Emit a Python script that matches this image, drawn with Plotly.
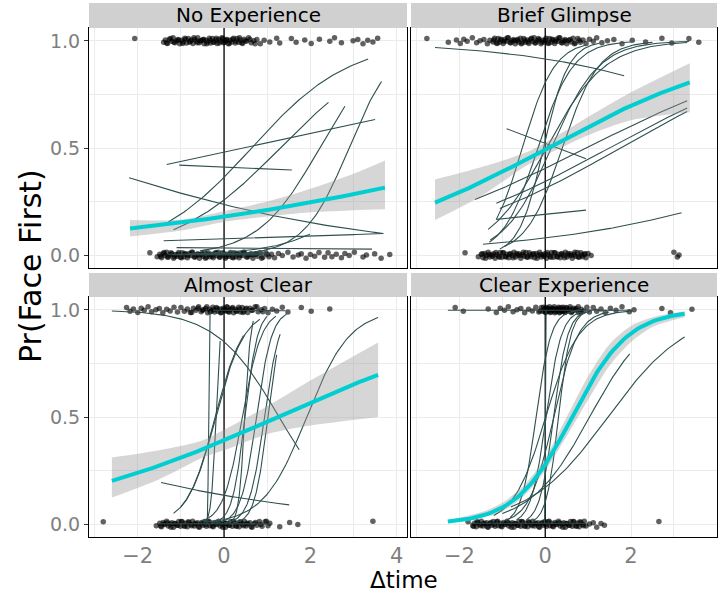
import numpy as np
import plotly.graph_objects as go

# ---------------- data ----------------
panel_titles = ["No Experience", "Brief Glimpse", "Almost Clear", "Clear Experience"]
x_tick_vals = [-2, 0, 2, 4]
x_tick_text = ["\u22122", "0", "2", "4"]
y_tick_vals = [0.0, 0.5, 1.0]
y_tick_text = ["0.0", "0.5", "1.0"]

# jittered observations (x positions) at outcome 1 and 0
p1_hi = [-2.07, -1.40, -1.36, -1.31, -1.27, -1.22, -1.18, -1.14, -1.1, -1.07, -1.03, -0.98, -0.95, -0.91,
         -0.87, -0.83, -0.8, -0.76, -0.72, -0.68, -0.64, -0.61, -0.57, -0.53, -0.49, -0.46, -0.42, -0.38,
         -0.34, -0.31, -0.27, -0.23, -0.19, -0.16, -0.12, -0.08, -0.05, -0.01, 0.03, 0.07, 0.1, 0.14, 0.18,
         0.22, 0.26, 0.3, 0.34, 0.38, 0.43, 0.47, 0.52, 0.57, 0.63, 0.69, 0.76, 0.84, 0.93, 1.06, 1.22, 1.29,
         1.56, 1.67, 1.87, 2.02, 2.21, 2.45, 2.56, 2.72, 2.99, 3.10, 3.22, 3.33, 3.45, 3.56,
         -1.33, -1.24, -1.16, -1.05, -0.96, -0.89, -0.78, -0.7, -0.62, -0.55, -0.47, -0.4, -0.32, -0.25,
         -0.18, -0.11, -0.03, 0.01, 0.05, 0.12, 0.2, 0.28, 0.36, 0.41, 0.49, 0.6, 0.72]
p1_lo = [-1.72, -1.55, -1.49, -1.45, -1.41, -1.37, -1.33, -1.29, -1.25, -1.21, -1.17, -1.13, -1.09, -1.05,
         -1.01, -0.97, -0.93, -0.89, -0.85, -0.81, -0.77, -0.73, -0.69, -0.65, -0.61, -0.57, -0.53, -0.49,
         -0.45, -0.41, -0.37, -0.33, -0.29, -0.25, -0.21, -0.17, -0.13, -0.09, -0.05, -0.01, 0.03, 0.07, 0.11,
         0.15, 0.19, 0.23, 0.27, 0.31, 0.35, 0.39, 0.43, 0.47, 0.52, 0.57, 0.62, 0.67, 0.72, 0.78, 0.84, 0.9,
         0.97, 1.04, 1.1, 1.17, 1.26, 1.35, 1.48, 1.6, 1.72, 1.79, 1.9, 2.0, 2.1, 2.2, 2.33, 2.41, 2.5, 2.6,
         2.72, 2.8, 2.9, 3.02, 3.22, 3.3, 3.49, 3.64, 3.84,
         -1.47, -1.39, -1.31, -1.23, -1.15, -1.07, -0.99, -0.91, -0.83, -0.75, -0.67, -0.59, -0.51, -0.43,
         -0.35, -0.27, -0.19, -0.11, -0.03, 0.05, 0.13, 0.21, 0.29, 0.37, 0.45, 0.55, 0.65, 0.75, 0.87, 1.0]
p2_hi = [-2.76, -2.26, -2.07, -1.98, -1.9, -1.82, -1.7, -1.6, -1.52, -1.43, -1.35, -1.29, -1.22, -1.18, -1.14,
         -1.1, -1.06, -1.02, -0.98, -0.94, -0.9, -0.86, -0.82, -0.78, -0.74, -0.7, -0.66, -0.62, -0.58, -0.54,
         -0.5, -0.46, -0.42, -0.38, -0.34, -0.3, -0.26, -0.22, -0.18, -0.14, -0.1, -0.06, -0.02, 0.02, 0.06,
         0.1, 0.14, 0.18, 0.22, 0.26, 0.3, 0.34, 0.38, 0.42, 0.46, 0.5, 0.55, 0.6, 0.65, 0.7, 0.76, 0.82,
         0.88, 0.95, 1.03, 1.12, 1.2, 1.32, 1.45, 1.6, 1.79, 2.03, 2.34, 2.72, 2.95, 3.35, 3.58,
         -1.2, -1.12, -1.04, -0.96, -0.88, -0.8, -0.72, -0.64, -0.56, -0.48, -0.4, -0.32, -0.24, -0.16,
         -0.08, 0.0, 0.08, 0.16, 0.24, 0.32, 0.4, 0.48, 0.58, 0.68, 0.79]
p2_lo = [-1.87, -1.56, -1.49, -1.45, -1.41, -1.37, -1.33, -1.29, -1.25, -1.21, -1.17, -1.13, -1.09, -1.05,
         -1.01, -0.97, -0.93, -0.89, -0.85, -0.81, -0.77, -0.73, -0.69, -0.65, -0.61, -0.57, -0.53, -0.49,
         -0.45, -0.41, -0.37, -0.33, -0.29, -0.25, -0.21, -0.17, -0.13, -0.09, -0.05, -0.01, 0.03, 0.07, 0.11,
         0.15, 0.19, 0.23, 0.27, 0.31, 0.35, 0.39, 0.43, 0.47, 0.51, 0.55, 0.59, 0.63, 0.67, 0.71, 0.75, 0.79,
         0.83, 0.87, 0.91, 0.95, 1.0, 1.07, 3.0, 3.08, 3.12,
         -1.47, -1.39, -1.31, -1.23, -1.15, -1.07, -0.99, -0.91, -0.83, -0.75, -0.67, -0.59, -0.51, -0.43,
         -0.35, -0.27, -0.19, -0.11, -0.03, 0.05, 0.13, 0.21, 0.29, 0.37, 0.45, 0.53, 0.61, 0.69, 0.77, 0.85, 0.93]
p3_hi = [-2.26, -2.18, -2.1, -2.0, -1.92, -1.85, -1.76, -1.68, -1.58, -1.5, -1.42, -1.33, -1.25, -1.16, -1.08,
         -1.0, -0.92, -0.85, -0.78, -0.71, -0.65, -0.59, -0.53, -0.48, -0.43, -0.38, -0.34, -0.3, -0.26, -0.22,
         -0.18, -0.14, -0.1, -0.06, -0.02, 0.02, 0.06, 0.1, 0.14, 0.18, 0.22, 0.26, 0.3, 0.34, 0.38, 0.42,
         0.46, 0.5, 0.55, 0.6, 0.66, 0.72, 0.79, 0.86, 0.94, 1.02, 1.12, 1.22, 1.35, 1.48, 1.79, 2.02, 2.45,
         -0.75, -0.6, -0.5, -0.4, -0.32, -0.24, -0.16, -0.08, 0.0, 0.04, 0.08, 0.12, 0.2, 0.28, 0.36, 0.44,
         0.52, 0.64, 0.76, 0.9]
p3_lo = [-2.80, -1.57, -1.49, -1.45, -1.41, -1.37, -1.33, -1.29, -1.25, -1.21, -1.17, -1.13, -1.09, -1.05,
         -1.01, -0.97, -0.93, -0.89, -0.85, -0.81, -0.77, -0.73, -0.69, -0.65, -0.61, -0.57, -0.53, -0.49,
         -0.45, -0.41, -0.37, -0.33, -0.29, -0.25, -0.21, -0.17, -0.13, -0.09, -0.05, -0.01, 0.03, 0.07, 0.11,
         0.15, 0.19, 0.23, 0.27, 0.31, 0.35, 0.39, 0.43, 0.47, 0.51, 0.55, 0.6, 0.65, 0.7, 0.76, 0.82, 0.88,
         0.95, 1.02, 1.06, 1.29, 1.52, 1.71, 3.45,
         -1.47, -1.39, -1.31, -1.23, -1.15, -1.07, -0.99, -0.91, -0.83, -0.75, -0.67, -0.59, -0.51, -0.43,
         -0.35, -0.27, -0.19, -0.11, -0.03, 0.05, 0.13, 0.21, 0.29, 0.37, 0.45, 0.53, 0.63, 0.73, 0.85, 0.98]
p4_hi = [-2.10, -1.91, -1.33, -1.14, -1.05, -0.95, -0.86, -0.75, -0.66, -0.57, -0.48, -0.39, -0.3, -0.22,
         -0.15, -0.09, -0.05, -0.02, 0.01, 0.04, 0.07, 0.1, 0.13, 0.16, 0.19, 0.22, 0.25, 0.28, 0.31, 0.34,
         0.37, 0.4, 0.43, 0.46, 0.5, 0.54, 0.58, 0.62, 0.67, 0.72, 0.78, 0.84, 0.9, 0.97, 1.03, 1.12, 1.2,
         1.3, 1.4, 1.52, 1.65, 1.79, 1.96, 2.07, 2.72, 2.92, 3.42,
         -0.12, -0.04, 0.0, 0.03, 0.06, 0.09, 0.12, 0.15, 0.18, 0.21, 0.24, 0.27, 0.3, 0.33, 0.36, 0.39,
         0.42, 0.45, 0.49, 0.53, 0.57, 0.61, 0.66, 0.71, 0.77, 0.83]
p4_lo = [-1.80, -1.69, -1.65, -1.61, -1.57, -1.53, -1.49, -1.45, -1.41, -1.37, -1.33, -1.29, -1.25, -1.21,
         -1.17, -1.13, -1.09, -1.05, -1.01, -0.97, -0.93, -0.89, -0.85, -0.81, -0.77, -0.73, -0.69, -0.65,
         -0.61, -0.57, -0.53, -0.49, -0.45, -0.41, -0.37, -0.33, -0.29, -0.25, -0.21, -0.17, -0.13, -0.09,
         -0.05, -0.01, 0.03, 0.07, 0.11, 0.15, 0.19, 0.23, 0.27, 0.31, 0.35, 0.39, 0.43, 0.47, 0.51, 0.55,
         0.59, 0.63, 0.67, 0.71, 0.75, 0.79, 0.83, 0.87, 0.91, 0.95, 1.03, 1.12, 1.2, 1.3, 1.38, 2.65,
         -1.67, -1.59, -1.51, -1.43, -1.35, -1.27, -1.19, -1.11, -1.03, -0.95, -0.87, -0.79, -0.71, -0.63,
         -0.55, -0.47, -0.39, -0.31, -0.23, -0.15, -0.07, 0.01, 0.09, 0.17, 0.25, 0.33, 0.41, 0.49, 0.57,
         0.65, 0.73, 0.81, 0.89]
y_jitter = [0.011, -0.007, 0.004, -0.012, 0.008, -0.002, 0.014, -0.009, 0.001, 0.006, -0.014, 0.003,
            -0.005, 0.012, -0.01]

# individual participant logistic fits: start x, start p, end x, end p
p1_cx0 = [-1.17, -1.29, -0.56, 0.50, -1.33, -1.04, -2.20, -1.40, -1.10, -0.86, -1.30, -1.20, -0.80]
p1_cp0 = [0.118, 0.155, 0.020, 0.010, 0.423, 0.420, 0.361, 0.067, 0.035, 0.005, 0.004, 0.002, 0.006]
p1_cx1 = [2.42, 3.34, 2.80, 3.65, 3.50, 1.57, 3.69, 3.69, 3.43, 1.99, 1.05, 0.90, 1.00]
p1_cp1 = [0.713, 0.915, 0.695, 0.810, 0.633, 0.397, 0.101, 0.101, 0.028, 0.098, 0.006, 0.001, 0.010]

p2_cx0 = [-2.57, -0.90, -1.33, -1.28, -1.06, -1.14, -1.30, -0.95, -1.64, -1.14, -1.06, -1.14, -1.45]
p2_cp0 = [0.969, 0.590, 0.120, 0.071, 0.028, 0.167, 0.060, 0.040, 0.260, 0.242, 0.218, 0.167, 0.051]
p2_cx1 = [1.84, 0.95, 3.31, 3.35, 1.26, 0.95, 2.00, 2.50, 3.31, 3.31, 3.31, 0.95, 3.18]
p2_cp1 = [0.837, 0.450, 0.992, 0.997, 0.989, 0.981, 0.995, 0.993, 0.720, 0.687, 0.670, 0.210, 0.198]

p3_cx0 = [-2.60, -0.40, -0.40, -0.48, -1.17, -1.00, -0.20, 0.00, 0.20, 0.10, -0.60, -0.30, -1.46, -0.25, -1.50]
p3_cp0 = [0.995, 0.010, 0.005, 0.005, 0.050, 0.080, 0.005, 0.005, 0.005, 0.004, 0.010, 0.005, 0.194, 0.998, 0.002]
p3_cx1 = [1.74, 3.57, -0.32, -0.09, 0.45, 0.83, 1.45, 1.30, 1.22, 0.68, 1.20, 1.00, 1.51, 1.42, 1.10]
p3_cp1 = [0.347, 0.964, 0.995, 0.855, 0.880, 0.956, 0.980, 0.886, 0.790, 0.948, 0.970, 0.970, 0.090, 0.996, 0.001]

p4_cx0 = [-0.82, -0.67, -0.44, -0.29, -1.20, -1.00, -0.80, -0.90, -2.27, -1.75, -0.02]
p4_cp0 = [0.030, 0.020, 0.020, 0.015, 0.040, 0.050, 0.080, 0.020, 0.998, 0.004, 0.002]
p4_cx1 = [0.80, 0.84, 0.95, 1.07, 2.03, 1.97, 3.25, 1.49, 2.03, 0.95, 0.02]
p4_cp1 = [0.997, 0.990, 0.990, 0.995, 0.995, 0.795, 0.873, 0.990, 0.998, 0.004, 0.998]

# group-level fit (start x, start p, end x, end p)
grp_x0 = [-2.18, -2.57, -2.60, -2.27]
grp_p0 = [0.124, 0.245, 0.202, 0.012]
grp_x1 = [3.73, 3.37, 3.57, 3.25]
grp_p1 = [0.315, 0.806, 0.697, 0.982]

# confidence ribbons
p1_rx = [-2.18, -1.0, 0.0, 1.0, 2.0, 3.0, 3.73]
p1_rlo = [0.087, 0.115, 0.155, 0.18, 0.20, 0.21, 0.214]
p1_rhi = [0.164, 0.165, 0.205, 0.25, 0.31, 0.38, 0.442]
p2_rx = [-2.57, -1.5, -0.5, 0.0, 1.0, 2.0, 3.37]
p2_rlo = [0.164, 0.275, 0.41, 0.465, 0.56, 0.63, 0.667]
p2_rhi = [0.353, 0.41, 0.475, 0.525, 0.645, 0.76, 0.896]
p3_rx = [-2.60, -1.5, -0.5, 0.0, 1.0, 2.0, 3.57]
p3_rlo = [0.124, 0.21, 0.31, 0.345, 0.42, 0.46, 0.50]
p3_rhi = [0.311, 0.345, 0.39, 0.44, 0.55, 0.67, 0.848]
p4_rx = [-2.27, -1.5, -1.0, -0.5, 0.0, 0.5, 1.0, 1.5, 2.0, 2.5, 3.25]
p4_rlo = [0.008, 0.028, 0.06, 0.13, 0.25, 0.41, 0.58, 0.74, 0.85, 0.92, 0.965]
p4_rhi = [0.018, 0.055, 0.10, 0.18, 0.31, 0.50, 0.69, 0.84, 0.925, 0.965, 0.993]

# ---------------- helpers ----------------
def logistic_path(x0, p0, x1, p1, n=90):
    p0 = min(max(p0, 1e-4), 1 - 1e-4)
    p1 = min(max(p1, 1e-4), 1 - 1e-4)
    l0, l1 = np.log(p0 / (1 - p0)), np.log(p1 / (1 - p1))
    b = (l1 - l0) / (x1 - x0)
    xs = np.linspace(x0, x1, n)
    return xs, 1 / (1 + np.exp(-(l0 + b * (xs - x0))))

panels = [
    dict(hi=p1_hi, lo=p1_lo, cx0=p1_cx0, cp0=p1_cp0, cx1=p1_cx1, cp1=p1_cp1, rx=p1_rx, rlo=p1_rlo, rhi=p1_rhi),
    dict(hi=p2_hi, lo=p2_lo, cx0=p2_cx0, cp0=p2_cp0, cx1=p2_cx1, cp1=p2_cp1, rx=p2_rx, rlo=p2_rlo, rhi=p2_rhi),
    dict(hi=p3_hi, lo=p3_lo, cx0=p3_cx0, cp0=p3_cp0, cx1=p3_cx1, cp1=p3_cp1, rx=p3_rx, rlo=p3_rlo, rhi=p3_rhi),
    dict(hi=p4_hi, lo=p4_lo, cx0=p4_cx0, cp0=p4_cp0, cx1=p4_cx1, cp1=p4_cp1, rx=p4_rx, rlo=p4_rlo, rhi=p4_rhi),
]

W, H = 719, 594
FONT = "DejaVu Sans"
# pixel boxes of panels (left, right, top, bottom)
boxes = [(89, 407, 28, 268), (411, 717, 28, 268), (89, 407, 297, 537), (411, 717, 297, 537)]
strips = [(3, 28), (3, 28), (273, 297), (273, 297)]
xranges = [[-3.13, 4.24], [-3.13, 4.005], [-3.13, 4.24], [-3.13, 4.005]]
yrange = [-0.06, 1.06]

fig = go.Figure()
shapes = []
annotations = []
layout = {}

for i, pd_ in enumerate(panels):
    sfx = "" if i == 0 else str(i + 1)
    xa, ya = "x" + sfx, "y" + sfx
    # observations
    for key, level in (("hi", 1.0), ("lo", 0.0)):
        xs = pd_[key]
        ys = [level + y_jitter[k % len(y_jitter)] for k in range(len(xs))]
        fig.add_trace(go.Scatter(x=xs, y=ys, mode="markers", xaxis=xa, yaxis=ya,
                                 marker=dict(size=5.5, color="rgba(0,0,0,0.62)", line=dict(width=0)),
                                 hoverinfo="skip", showlegend=False))
    # reference line at x = 0 (spans the full vertical range)
    fig.add_trace(go.Scatter(x=[0, 0], y=yrange, mode="lines", xaxis=xa, yaxis=ya,
                             line=dict(color="black", width=1.3), hoverinfo="skip", showlegend=False))
    # individual fits
    for a, b, c, d in zip(pd_["cx0"], pd_["cp0"], pd_["cx1"], pd_["cp1"]):
        xs, ys = logistic_path(a, b, c, d)
        fig.add_trace(go.Scatter(x=xs, y=ys, mode="lines", xaxis=xa, yaxis=ya,
                                 line=dict(color="#2F4F4F", width=1.1), hoverinfo="skip", showlegend=False))
    # ribbon
    fig.add_trace(go.Scatter(x=pd_["rx"], y=pd_["rlo"], mode="lines", xaxis=xa, yaxis=ya,
                             line=dict(width=0, shape="spline", smoothing=0.8), hoverinfo="skip", showlegend=False))
    fig.add_trace(go.Scatter(x=pd_["rx"], y=pd_["rhi"], mode="lines", xaxis=xa, yaxis=ya, fill="tonexty",
                             fillcolor="rgba(153,153,153,0.4)",
                             line=dict(width=0, shape="spline", smoothing=0.8), hoverinfo="skip", showlegend=False))
    # group fit
    gx, gy = logistic_path(grp_x0[i], grp_p0[i], grp_x1[i], grp_p1[i])
    fig.add_trace(go.Scatter(x=gx, y=gy, mode="lines", xaxis=xa, yaxis=ya,
                             line=dict(color="#00CED1", width=4), hoverinfo="skip", showlegend=False))

    l, r, t, b = boxes[i]
    bottom_row = i >= 2
    left_col = i % 2 == 0
    layout["xaxis" + sfx] = dict(
        domain=[l / W, r / W], anchor=ya, range=xranges[i],
        tickmode="array", tickvals=x_tick_vals, ticktext=x_tick_text,
        showticklabels=bottom_row, ticks="",
        tickfont=dict(family=FONT, size=21, color="#7F7F7F"),
        showgrid=True, gridcolor="#EBEBEB", gridwidth=1.2,
        minor=dict(tickmode="linear", tick0=-3, dtick=2, showgrid=True, gridcolor="#EBEBEB", gridwidth=0.6),
        showline=True, linecolor="black", linewidth=1, mirror=True, zeroline=False, fixedrange=True)
    layout["yaxis" + sfx] = dict(
        domain=[(H - b) / H, (H - t) / H], anchor=xa, range=yrange,
        tickmode="array", tickvals=y_tick_vals, ticktext=y_tick_text,
        showticklabels=left_col, ticks="outside" if left_col else "", ticklen=4, tickcolor="#333333",
        tickfont=dict(family=FONT, size=19, color="#7F7F7F"),
        showgrid=True, gridcolor="#EBEBEB", gridwidth=1.2,
        minor=dict(tickmode="linear", tick0=0.25, dtick=0.5, showgrid=True, gridcolor="#EBEBEB", gridwidth=0.6),
        showline=True, linecolor="black", linewidth=1, mirror=True, zeroline=False, fixedrange=True)
    # strip
    st, sb = strips[i]
    shapes.append(dict(type="rect", xref="paper", yref="paper", x0=l / W, x1=r / W,
                       y0=(H - sb) / H, y1=(H - st) / H, fillcolor="#D0D0D0", line=dict(width=0), layer="above"))
    annotations.append(dict(text=panel_titles[i], xref="paper", yref="paper", x=(l + r) / 2 / W,
                            y=(H - (st + sb) / 2) / H, showarrow=False, xanchor="center", yanchor="middle",
                            font=dict(family=FONT, size=20, color="black")))

annotations.append(dict(text="Pr(Face First)", xref="paper", yref="paper", x=30 / W, y=(H - 266) / H,
                        textangle=-90, showarrow=False, xanchor="center", yanchor="middle",
                        font=dict(family=FONT, size=30, color="black")))
annotations.append(dict(text="\u0394time", xref="paper", yref="paper", x=404 / W, y=0,
                        showarrow=False, xanchor="center", yanchor="bottom", borderpad=0,
                        font=dict(family=FONT, size=23, color="black")))

fig.update_layout(width=W, height=H, margin=dict(l=0, r=0, t=0, b=0),
                  paper_bgcolor="white", plot_bgcolor="white", showlegend=False,
                  shapes=shapes, annotations=annotations, **layout)

fig.write_html("out.html")
